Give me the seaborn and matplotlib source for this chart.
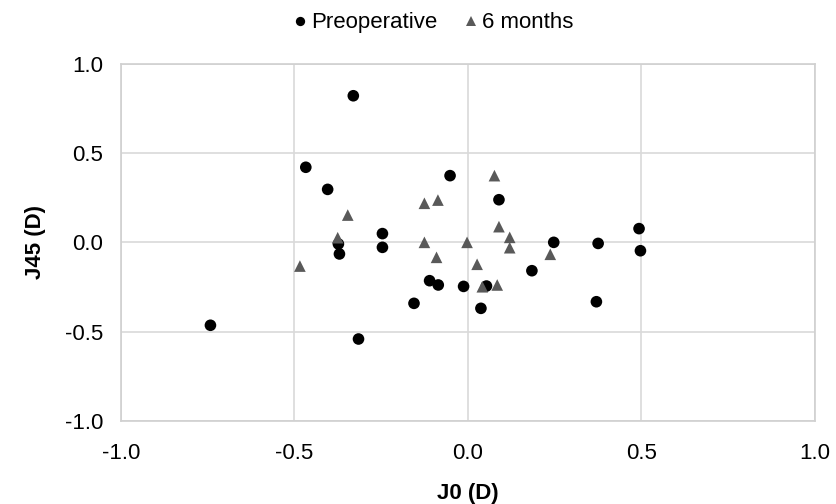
import matplotlib
matplotlib.use("Agg")
import matplotlib.pyplot as plt
import seaborn as sns
import pandas as pd

pre_j0 = [-0.330, -0.467, -0.404, -0.246, -0.246, -0.373, -0.370, -0.742, -0.315,
          -0.051, 0.090, 0.248, 0.376, 0.494, 0.498, 0.185, -0.110, -0.085,
          -0.012, 0.054, -0.155, 0.038, 0.371]
pre_j45 = [0.822, 0.421, 0.297, 0.049, -0.028, -0.009, -0.065, -0.465, -0.542,
           0.374, 0.239, 0.0, -0.006, 0.077, -0.047, -0.159, -0.215, -0.239,
           -0.247, -0.245, -0.342, -0.370, -0.333]
post_j0 = [-0.484, -0.375, -0.346, 0.077, -0.125, -0.086, 0.090, 0.121, 0.121,
           -0.125, -0.002, -0.090, 0.027, 0.238, 0.042, 0.085]
post_j45 = [-0.133, 0.026, 0.153, 0.374, 0.219, 0.237, 0.088, 0.028, -0.030,
            0.0, 0.0, -0.084, -0.123, -0.067, -0.249, -0.239]
groups = ["Preoperative", "6 months"]
x_ticks = [-1.0, -0.5, 0.0, 0.5, 1.0]
y_ticks = [-1.0, -0.5, 0.0, 0.5, 1.0]

df = pd.DataFrame({
    "J0": pre_j0 + post_j0,
    "J45": pre_j45 + post_j45,
    "Group": [groups[0]] * len(pre_j0) + [groups[1]] * len(post_j0),
})

sns.set_theme(style="white")
plt.rcParams["font.family"] = ["Liberation Sans", "DejaVu Sans"]
plt.rcParams["text.color"] = "#000000"
plt.rcParams["axes.labelcolor"] = "#000000"

fig = plt.figure(figsize=(8.36, 5.04), dpi=100)
ax = fig.add_axes([0.1447, 0.1653, 0.8296, 0.7077])

sns.scatterplot(data=df, x="J0", y="J45", hue="Group", style="Group",
                hue_order=groups, style_order=groups,
                palette={groups[0]: "#000000", groups[1]: "#595959"},
                markers={groups[0]: "o", groups[1]: "^"},
                s=70, linewidth=0, ax=ax, zorder=3, legend=True)

ax.set_xlim(-1.0, 1.0)
ax.set_ylim(-1.0, 1.0)
ax.set_xticks(x_ticks)
ax.set_yticks(y_ticks)
ax.set_xticklabels([f"{v:.1f}" for v in x_ticks])
ax.set_yticklabels([f"{v:.1f}" for v in y_ticks])
ax.tick_params(axis="x", labelsize=16, length=0, pad=16, colors="#000000")
ax.tick_params(axis="y", labelsize=16, length=0, pad=13, colors="#000000")
ax.grid(True, color="#d9d9d9", linewidth=1.2)
ax.set_axisbelow(True)
for sp in ax.spines.values():
    sp.set_color("#d0d0d0")
    sp.set_linewidth(1.2)

ax.set_xlabel("J0 (D)", fontsize=16, fontweight="bold", labelpad=14)
ax.set_ylabel("J45 (D)", fontsize=16, fontweight="bold", labelpad=13)

leg = ax.legend(loc="lower center", bbox_to_anchor=(0.447, 1.03), ncol=2,
                frameon=False, fontsize=16, handletextpad=0.0,
                handlelength=1.0, columnspacing=1.0, markerscale=0.8)

fig.savefig("out.png", dpi=100)
